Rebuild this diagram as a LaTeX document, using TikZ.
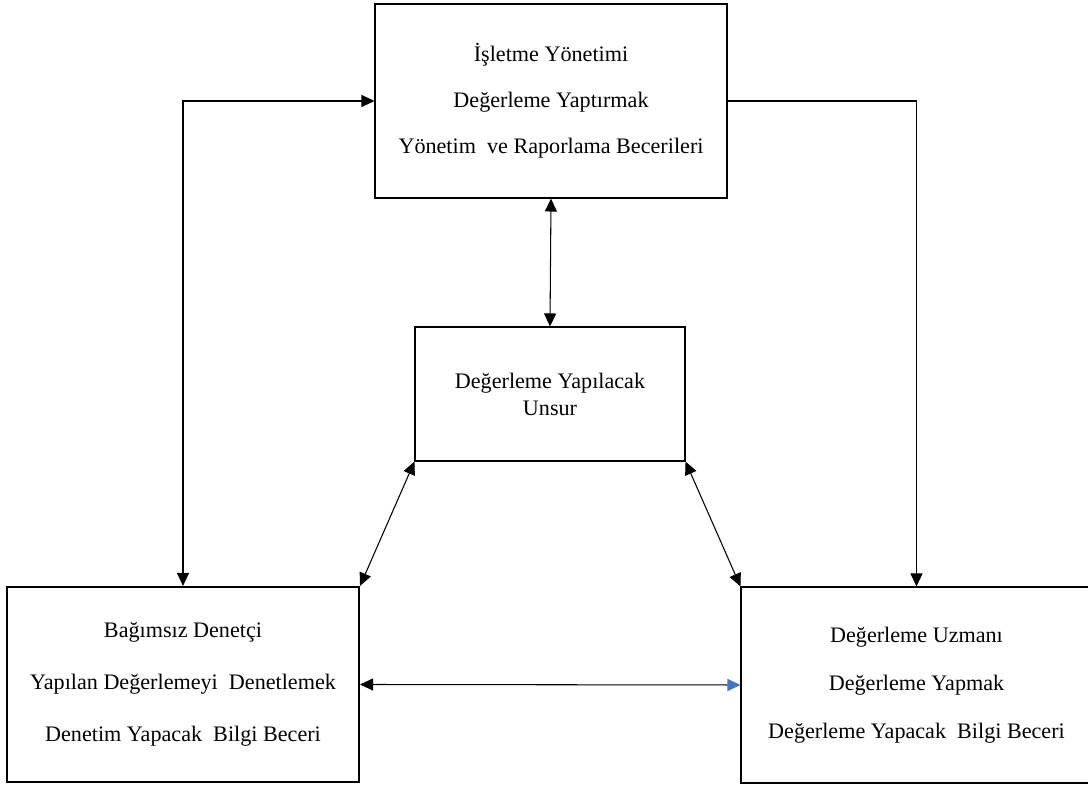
\documentclass[tikz,border=0pt]{standalone}
\usepackage{fontspec}
\setmainfont{Liberation Serif}
\usetikzlibrary{arrows.meta}
\definecolor{tipblue}{RGB}{68,114,196}

\begin{document}
\begin{tikzpicture}[box/.style={draw, align=center, inner sep=0pt, line width=0.6pt},
    >={Triangle[length=0.26cm,width=0.24cm]}, line width=0.6pt]
    \useasboundingbox (0,0) rectangle (21.76,15.74);

    \node[box, minimum width=7.04cm, minimum height=3.88cm,
      font=\fontsize{12.6}{26.2}\selectfont] (mgmt) at (11.02,13.72)
    {İşletme Yönetimi\\Değerleme Yaptırmak\\Yönetim~ ve Raporlama Becerileri};

    \node[box, minimum width=5.4cm, minimum height=2.68cm,
      font=\fontsize{12.6}{15.4}\selectfont] (item) at (11.0,7.86)
    {Değerleme Yapılacak\\Unsur};

    \node[box, line width=1.2pt, minimum width=7.04cm, minimum height=3.9cm,
      font=\fontsize{12.6}{29.6}\selectfont] (auditor) at (3.66,2.05)
    {Bağımsız Denetçi\\Yapılan Değerlemeyi~ Denetlemek\\Denetim Yapacak~ Bilgi Beceri};

    \node[box, minimum width=7.02cm, minimum height=3.92cm,
      font=\fontsize{12.6}{27.3}\selectfont] (expert) at (18.33,2.04)
    {Değerleme Uzmanı\\Değerleme Yapmak\\Değerleme Yapacak~ Bilgi Beceri};

    \draw[<->] (mgmt.west) -| (auditor.north);
    \draw[->] (mgmt.east) -| (expert.north);
    \draw[<->] (mgmt.south) -- (item.north);
    \draw[<->] (item.south west) -- (auditor.north east);
    \draw[<->] (item.south east) -- (expert.north west);
    \draw[{Triangle[length=0.26cm,width=0.24cm]}-{Triangle[length=0.26cm,width=0.24cm,color=tipblue]}]
    (auditor.east) -- (expert.west);
  \end{tikzpicture}
\end{document}
